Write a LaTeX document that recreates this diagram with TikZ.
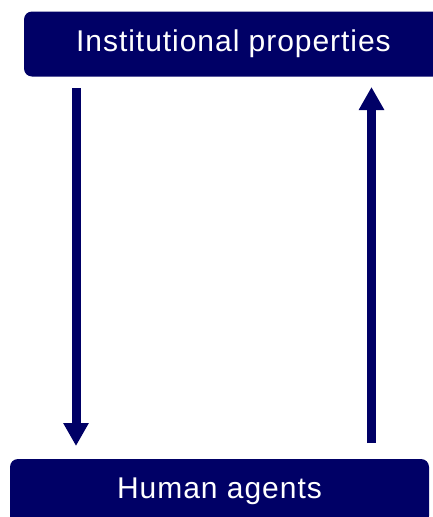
\documentclass[tikz,border=0pt]{standalone}
\usepackage{fontspec}
\setmainfont{Liberation Sans}
\usepackage{tikz}
\usetikzlibrary{
  arrows.meta, positioning, calc
}
\usepackage{xcolor}
\definecolor{instnavy}{RGB}{0, 0, 102}

\begin{document}
\begin{tikzpicture}[x=1pt, y=-1pt,
    levelbox/.style={fill=instnavy, draw=none, rounded corners=8pt,
      minimum height=65pt, inner sep=0pt, text=white,
      font=\fontsize{30}{35}\selectfont\addfontfeature{LetterSpace=3.2}},
    flowarrow/.style={draw=instnavy, line width=9pt,
      -{Triangle[length=23pt, width=24pt]}}
  ]
  \useasboundingbox (0,0) rectangle (433,517);
  % the two levels
  \node[levelbox, minimum width=419pt] (inst) at (233.5,44) {Institutional properties};
  \node[levelbox, minimum width=419pt] (agents) at (219.5,491.5) {Human agents};
  % end points of the two flows
  \coordinate (downstart) at (76,88);
  \coordinate (downend) at (76,446);
  \coordinate (upstart) at (371.5,443);
  \coordinate (upend) at (371.5,87);
  \draw[flowarrow] (downstart) -- (downend);
  \draw[flowarrow] (upstart) -- (upend);
\end{tikzpicture}
\end{document}
